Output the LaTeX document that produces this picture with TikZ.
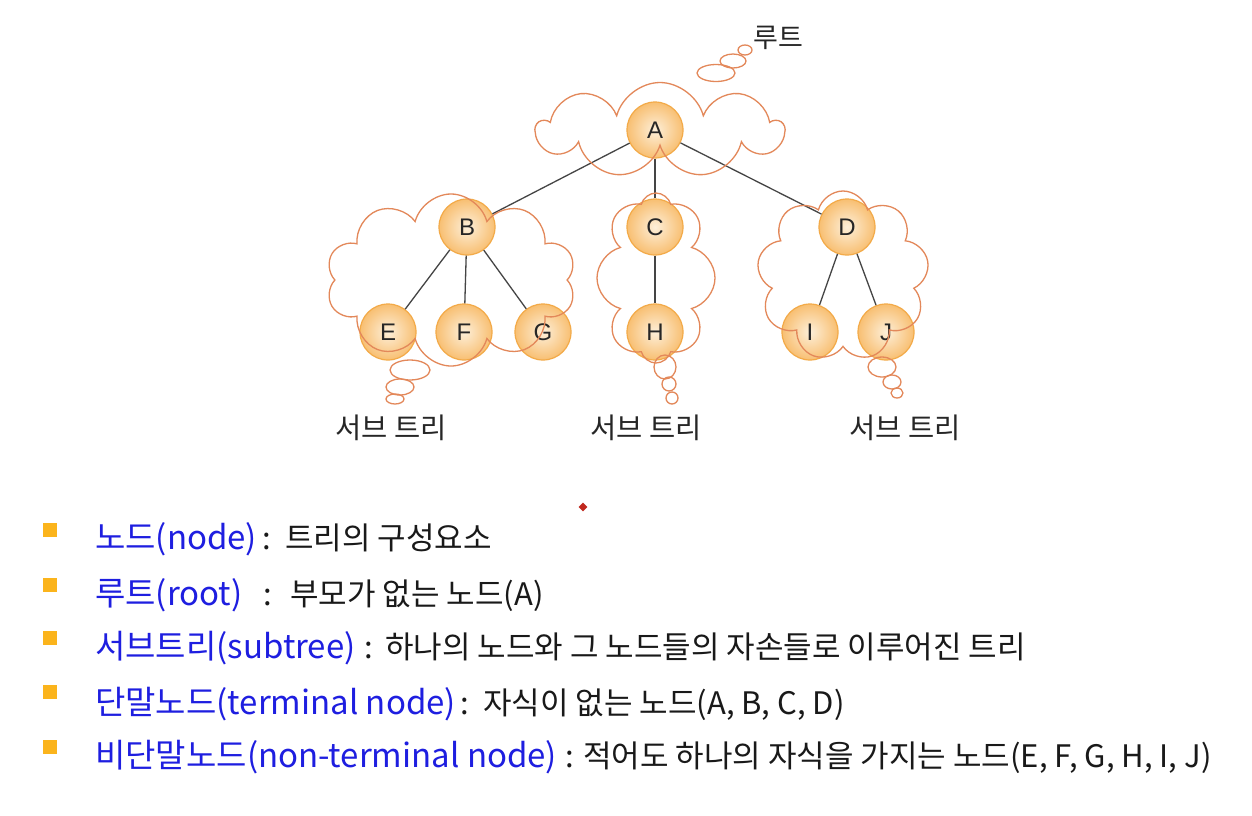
\documentclass[tikz,border=0pt]{standalone}
\usepackage{fontspec}
\setmainfont{Noto Sans CJK KR}
\newfontfamily\krfont{Noto Sans CJK KR}
\newfontfamily\latfont{Liberation Sans}
\usetikzlibrary{shapes.symbols,shapes.geometric}
\definecolor{nodeinner}{HTML}{FDEFD9}
\definecolor{nodeouter}{HTML}{F8BF72}
\definecolor{nodeborder}{HTML}{F3AA48}
\definecolor{cloudcol}{HTML}{E3885A}
\definecolor{edgecol}{HTML}{454545}
\definecolor{bluetxt}{HTML}{1E1EE0}
\definecolor{bullcol}{HTML}{FBB41C}
\definecolor{dotcol}{HTML}{C0281E}
\tikzset{
  tnode/.style={circle, minimum size=56pt, inner sep=0pt, draw=nodeborder, line width=1.2pt,
    inner color=nodeinner, outer color=nodeouter, text=black!85,
    font=\latfont\fontsize{24}{24}\selectfont},
  edge/.style={draw=edgecol, line width=1.3pt},
  cloudbox/.style={cloud, draw=cloudcol, line width=1.3pt, cloud ignores aspect, inner sep=0pt},
  bubble/.style={ellipse, draw=cloudcol, line width=1.3pt, inner sep=0pt},
  treelabel/.style={font=\krfont\fontsize{28.5}{28.5}\selectfont, text=black!85},
  bullet/.style={fill=bullcol, minimum size=14pt, inner sep=0pt},
  bluetext/.style={anchor=base west, inner sep=0pt, text=bluetxt, font=\krfont\fontsize{33}{33}\selectfont},
  blacktext/.style={anchor=base west, inner sep=0pt, text=black!90, font=\krfont\fontsize{31}{31}\selectfont},
}
\begin{document}
\begin{tikzpicture}[x=1pt,y=-1pt]
\useasboundingbox[fill=white] (0,0) rectangle (1252,815);
% tree nodes
\node[tnode] (A) at (655,130) {A};
\node[tnode] (B) at (467,227) {B};
\node[tnode] (C) at (655,227) {C};
\node[tnode] (D) at (847,227) {D};
\node[tnode] (E) at (388,332) {E};
\node[tnode] (F) at (464,332) {F};
\node[tnode] (G) at (543,332) {G};
\node[tnode] (H) at (655,332) {H};
\node[tnode] (I) at (810,332) {I};
\node[tnode] (J) at (886,332) {J};
% edges
\draw[edge] (A) -- (B);
\draw[edge] (A) -- (C);
\draw[edge] (A) -- (D);
\draw[edge] (B) -- (E);
\draw[edge] (B) -- (F);
\draw[edge] (B) -- (G);
\draw[edge] (C) -- (H);
\draw[edge] (D) -- (I);
\draw[edge] (D) -- (J);
% clouds
\node[cloudbox, cloud puffs=9, minimum width=246pt, minimum height=95pt] (cA) at (660,130) {};
\node[cloudbox, cloud puffs=10, minimum width=250pt, minimum height=172pt] (cB) at (451,280) {};
\node[cloudbox, cloud puffs=8, minimum width=118pt, minimum height=170pt] (cC) at (656,278) {};
\node[cloudbox, cloud puffs=9, minimum width=172pt, minimum height=170pt] (cD) at (843,276) {};
% thought bubbles
\node[bubble, minimum width=38pt, minimum height=17pt] (bA1) at (716,73) {};
\node[bubble, minimum width=26pt, minimum height=14pt] (bA2) at (733,61) {};
\node[bubble, minimum width=14pt, minimum height=10pt] (bA3) at (745,50) {};
\node[bubble, minimum width=40pt, minimum height=20pt] (bB1) at (410,370) {};
\node[bubble, minimum width=28pt, minimum height=16pt] (bB2) at (400,387) {};
\node[bubble, minimum width=18pt, minimum height=10pt] (bB3) at (395,399) {};
\node[bubble, minimum width=22pt, minimum height=24pt] (bC1) at (665,367) {};
\node[bubble, minimum width=14pt, minimum height=14pt] (bC2) at (669,384) {};
\node[bubble, minimum width=12pt, minimum height=12pt] (bC3) at (672,398) {};
\node[bubble, minimum width=28pt, minimum height=20pt] (bD1) at (882,367) {};
\node[bubble, minimum width=18pt, minimum height=14pt] (bD2) at (892,382) {};
\node[bubble, minimum width=12pt, minimum height=10pt] (bD3) at (897,393) {};
% labels
\node[font=\krfont\fontsize{27}{27}\selectfont, text=black!85] (root) at (778,38) {루트};
\node[treelabel] (sB) at (391,428) {서브 트리};
\node[treelabel] (sC) at (646,428) {서브 트리};
\node[treelabel] (sD) at (905,428) {서브 트리};
% red marker
\node[diamond, fill=dotcol, minimum size=9pt, inner sep=0pt] (dot) at (583,507) {};
% bullet list
\node[bullet] (q1) at (50,530) {};
\node[bullet] (q2) at (50,585) {};
\node[bullet] (q3) at (50,638) {};
\node[bullet] (q4) at (50,692) {};
\node[bullet] (q5) at (50,747) {};
\node[bluetext] (t1) at (95,549) {노드(node)};
\node[bluetext] (t2) at (95,605) {루트(root)};
\node[bluetext] (t3) at (95,658) {서브트리(subtree)};
\node[bluetext] (t4) at (95,714) {단말노드(terminal node)};
\node[bluetext] (t5) at (95,767) {비단말노드(non-terminal node)};
\node[blacktext] (k1) at (262,549) {:};
\node[blacktext] (k2) at (263,605) {:};
\node[blacktext] (k3) at (364,658) {:};
\node[blacktext] (k4) at (460,714) {:};
\node[blacktext] (k5) at (565,767) {:};
\node[blacktext] (d1) at (285,549) {트리의 구성요소};
\node[blacktext] (d2) at (290,605) {부모가 없는 노드(A)};
\node[blacktext] (d3) at (385,658) {하나의 노드와 그 노드들의 자손들로 이루어진 트리};
\node[blacktext] (d4) at (483,714) {자식이 없는 노드(A, B, C, D)};
\node[blacktext] (d5) at (583,767) {적어도 하나의 자식을 가지는 노드(E, F, G, H, I, J)};
\end{tikzpicture}
\end{document}
